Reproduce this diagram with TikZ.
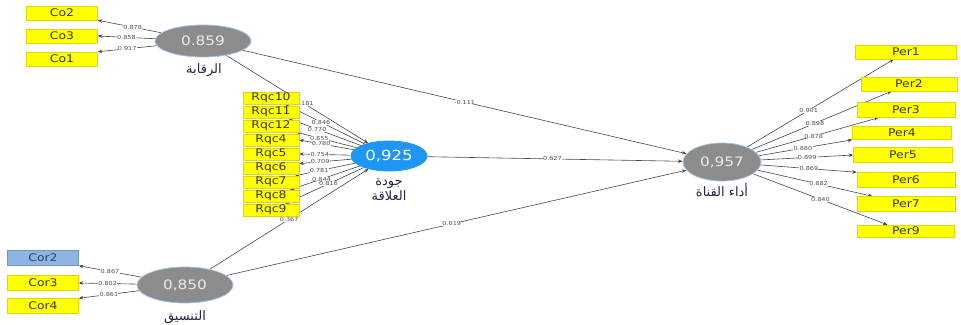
\documentclass[tikz,border=0pt]{standalone}
\usepackage{fontspec}
\setmainfont{DejaVu Sans}
\newfontfamily\arabicfont[Script=Arabic]{DejaVu Sans}
\newfontfamily\widefont[FakeStretch=1.18]{DejaVu Sans}
\TeXXeTstate=1
\usetikzlibrary{shapes.geometric,arrows.meta,calc}
\definecolor{lvgray}{RGB}{140,140,140}
\definecolor{lvborder}{RGB}{160,195,230}
\definecolor{lvblue}{RGB}{30,150,245}
\definecolor{indy}{RGB}{255,255,0}
\definecolor{indyb}{RGB}{225,215,0}
\definecolor{indtext}{RGB}{55,55,10}
\definecolor{corblue}{RGB}{141,180,226}
\definecolor{corbord}{RGB}{110,150,200}
\definecolor{cortext}{RGB}{45,65,100}
\definecolor{lncol}{RGB}{70,70,70}
\definecolor{wtcol}{RGB}{80,80,80}
\definecolor{arcol}{RGB}{35,35,70}
\pgfdeclarelayer{bg}
\pgfsetlayers{bg,main}
\tikzset{
  lv/.style={ellipse, fill=lvgray, draw=lvborder, line width=0.8pt, inner sep=0pt,
    text={rgb,255:red,235;green,235;blue,235}, font=\widefont\fontsize{13}{15}\selectfont},
  lvb/.style={lv, fill=lvblue, draw=lvblue, text=white, font=\widefont\fontsize{14}{16}\selectfont},
  ind/.style={rectangle, fill=indy, draw=indyb, line width=0.5pt, inner sep=0pt,
    text=indtext, font=\widefont\fontsize{10.5}{12}\selectfont},
  indc/.style={ind, fill=corblue, draw=corbord, text=cortext},
  lnk/.style={draw=lncol, line width=0.6pt, -{Stealth[length=4.5pt,width=3.5pt]}},
  wt/.style={fill=white, inner sep=0.3pt, font=\widefont\fontsize{5.5}{6}\selectfont, text=wtcol},
  arl/.style={font=\arabicfont\fontsize{13}{15}\selectfont, text=arcol, align=center}
}
\begin{document}
\begin{tikzpicture}[x=1pt,y=-1pt]
\useasboundingbox (0,0) rectangle (961,324);

% latent variables
\node[lv, minimum width=96pt, minimum height=32pt] (rq) at (203,41) {0.859};
\node[lvb, minimum width=76pt, minimum height=30pt] (jw) at (389,156) {0,925};
\node[lv, minimum width=78pt, minimum height=38pt] (ad) at (722,162) {0,957};
\node[lv, minimum width=96pt, minimum height=36pt] (ta) at (185,285) {0,850};

\node[arl] (rqlab) at (204,70) {\beginR الرقابة\endR};
\node[arl] (jwlab) at (389,190) {\beginR جودة\endR\\\beginR العلاقة\endR};
\node[arl] (adlab) at (722,190) {\beginR أداء القناة\endR};
\node[arl] (talab) at (185,317) {\beginR التنسيق\endR};

% indicators of rq
\node[ind, minimum width=71pt, minimum height=14pt] (Co2) at (62,13) {Co2};
\node[ind, minimum width=71pt, minimum height=14pt] (Co3) at (62,36) {Co3};
\node[ind, minimum width=71pt, minimum height=14pt] (Co1) at (62,59) {Co1};

% indicators of jw
\foreach \nm/\yy in {Rqc10/98,Rqc11/112,Rqc12/126,Rqc4/140,Rqc5/154,Rqc6/168,Rqc7/182,Rqc8/196,Rqc9/210}
  \node[ind, minimum width=56pt, minimum height=12pt] (\nm) at (271,\yy) {\nm};

% indicators of ta
\node[indc, minimum width=71pt, minimum height=15pt] (Cor2) at (43,258) {Cor2};
\node[ind, minimum width=71pt, minimum height=15pt] (Cor3) at (43,283) {Cor3};
\node[ind, minimum width=71pt, minimum height=15pt] (Cor4) at (43,306) {Cor4};

% indicators of ad
\node[ind, minimum width=101pt, minimum height=14pt] (Per1) at (906,52) {Per1};
\node[ind, minimum width=96pt, minimum height=14pt] (Per2) at (909,84) {Per2};
\node[ind, minimum width=98pt, minimum height=15pt] (Per3) at (906,110) {Per3};
\node[ind, minimum width=99pt, minimum height=13pt] (Per4) at (902,133) {Per4};
\node[ind, minimum width=99pt, minimum height=15pt] (Per5) at (903,155) {Per5};
\node[ind, minimum width=98pt, minimum height=15pt] (Per6) at (906,180) {Per6};
\node[ind, minimum width=98pt, minimum height=15pt] (Per7) at (906,204) {Per7};
\node[ind, minimum width=97pt, minimum height=12pt] (Per9) at (906,231) {Per9};

\begin{pgfonlayer}{bg}
% structural paths
\draw[lnk] (rq) -- node[wt, pos=0.5]{-0.111} (ad);
\draw[lnk] (jw) -- node[wt, pos=0.49]{0.627} (ad);
\draw[lnk] (ta) -- node[wt, pos=0.49]{0.019} (ad);
\draw[lnk] (rq) -- node[wt, pos=0.55]{0.181} (jw);
\draw[lnk] (ta) -- node[wt, pos=0.5]{0.367} (jw);

% outer loadings rq
\draw[lnk] (rq) -- node[wt, pos=0.45]{0.878} (Co2.south east);
\draw[lnk] (rq) -- node[wt, pos=0.5]{0.858} (Co3.east);
\draw[lnk] (rq) -- node[wt, pos=0.5]{0.917} (Co1.north east);

% outer loadings ta
\draw[lnk] (ta) -- node[wt, pos=0.5]{0.867} (Cor2.south east);
\draw[lnk] (ta) -- node[wt, pos=0.5]{0.802} (Cor3.east);
\draw[lnk] (ta) -- node[wt, pos=0.5]{0.861} (Cor4.north east);

% outer loadings jw
\draw[lnk] (jw) -- node[wt, pos=0.55]{0.846} ($(Rqc10.south west)!0.75!(Rqc10.south east)$);
\draw[lnk] (jw) -- node[wt, pos=0.6]{0.770} ($(Rqc11.south west)!0.8!(Rqc11.south east)$);
\draw[lnk] (jw) -- node[wt, pos=0.62]{0.855} ($(Rqc12.south west)!0.95!(Rqc12.south east)$);
\draw[lnk] (jw) -- node[wt, pos=0.6]{0.780} (Rqc4.east);
\draw[lnk] (jw) -- node[wt, pos=0.6]{0.754} (Rqc5.east);
\draw[lnk] (jw) -- node[wt, pos=0.6]{0.709} ($(Rqc6.north east)!0.15!(Rqc6.south east)$);
\draw[lnk] (jw) -- node[wt, pos=0.6]{0.781} ($(Rqc7.north west)!0.93!(Rqc7.north east)$);
\draw[lnk] (jw) -- node[wt, pos=0.55]{0.844} ($(Rqc8.north west)!0.84!(Rqc8.north east)$);
\draw[lnk] (jw) -- node[wt, pos=0.45]{0.816} ($(Rqc9.north west)!0.75!(Rqc9.north east)$);

% outer loadings ad
\draw[lnk] (ad) -- node[wt, pos=0.42]{0.901} ($(Per1.south west)!0.38!(Per1.south east)$);
\draw[lnk] (ad) -- node[wt, pos=0.45]{0.898} ($(Per2.south west)!0.32!(Per2.south east)$);
\draw[lnk] (ad) -- node[wt, pos=0.47]{0.878} ($(Per3.south west)!0.22!(Per3.south east)$);
\draw[lnk] (ad) -- node[wt, pos=0.47]{0.880} (Per4.south west);
\draw[lnk] (ad) -- node[wt, pos=0.5]{0.899} (Per5.west);
\draw[lnk] (ad) -- node[wt, pos=0.5]{0.869} (Per6.north west);
\draw[lnk] (ad) -- node[wt, pos=0.53]{0.882} ($(Per7.north west)!0.16!(Per7.north east)$);
\draw[lnk] (ad) -- node[wt, pos=0.5]{0.840} ($(Per9.north west)!0.31!(Per9.north east)$);
\end{pgfonlayer}
\end{tikzpicture}
\end{document}
